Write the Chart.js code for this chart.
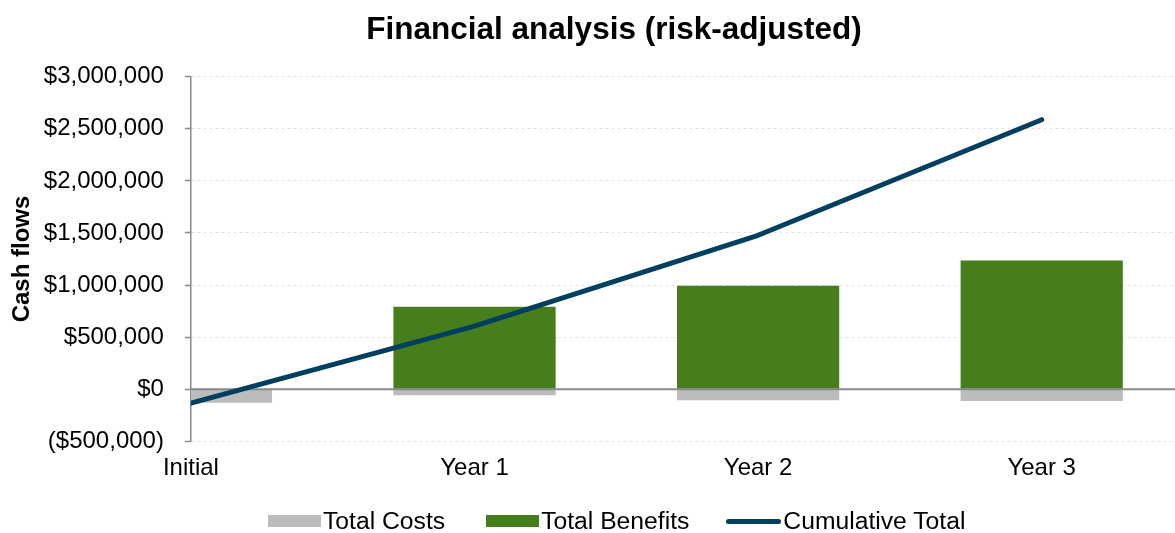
<!DOCTYPE html>
<html><head><meta charset="utf-8">
<script src="https://cdn.jsdelivr.net/npm/chart.js@4.4.1/dist/chart.umd.min.js"></script>
<style>
html,body{margin:0;padding:0;background:#fff;overflow:hidden}
#wrap{position:relative;width:1175px;height:533px}
#legend{position:absolute;left:268px;top:507px;height:28px;display:flex;align-items:center;white-space:nowrap;
  font-family:'Liberation Sans',Arial,Helvetica,sans-serif;font-size:24.7px;line-height:28px;color:#000}
#legend .item{display:flex;align-items:center}
#legend .sw{display:inline-block;margin-right:2px}
</style>
</head><body>
<div id="wrap">
<canvas id="c" width="1175" height="533"></canvas>
<div id="legend"></div>
</div>
<script>
// ---- data ----
const categories = ['Initial', 'Year 1', 'Year 2', 'Year 3'];
const totalCosts = [-130000, -58000, -106000, -115000];
const totalBenefits = [0, 791000, 992000, 1236000];
const cumulativeTotal = [-135000, 605000, 1478000, 2588000];
const yTickValues = [-500000, 0, 500000, 1000000, 1500000, 2000000, 2500000, 3000000];

const FONT = 'Liberation Sans, Arial, Helvetica, sans-serif';
const COLORS = { costs: '#bcbcbc', benefits: '#477e1c', line: '#003f5f', axis: '#898989', grid: '#e2e2e2' };

const toPoints = arr => arr.map((v, i) => ({ x: i, y: v }));
const money = v => {
  const s = '$' + Math.abs(v).toLocaleString('en-US');
  return v < 0 ? '(' + s + ')' : s;
};

const zeroLine = {
  id: 'zeroLine',
  beforeDatasetDraw(chart, args) {
    if (args.meta.type !== 'line') return;
    const y = chart.scales.y.getPixelForValue(0);
    const { left, right } = chart.chartArea;
    const ctx = chart.ctx;
    ctx.save();
    ctx.strokeStyle = COLORS.axis;
    ctx.lineWidth = 2;
    ctx.beginPath();
    ctx.moveTo(left, y);
    ctx.lineTo(right, y);
    ctx.stroke();
    ctx.restore();
  }
};

// the reference title sits a little right of the canvas centre
const titleShift = {
  id: 'titleShift',
  afterLayout(chart) {
    if (chart.titleBlock) chart.titleBlock.left += 45;
  }
};

const chart = new Chart(document.getElementById('c'), {
  type: 'bar',
  data: {
    datasets: [
      { type: 'bar', label: 'Total Costs', data: toPoints(totalCosts), backgroundColor: COLORS.costs,
        borderWidth: 0, grouped: false, clip: 0, order: 1 },
      { type: 'bar', label: 'Total Benefits', data: toPoints(totalBenefits), backgroundColor: COLORS.benefits,
        borderWidth: 0, grouped: false, clip: 0, order: 2 },
      { type: 'line', label: 'Cumulative Total', data: toPoints(cumulativeTotal), borderColor: COLORS.line,
        backgroundColor: COLORS.line, borderWidth: 5, pointRadius: 0, tension: 0, borderCapStyle: 'round',
        borderJoinStyle: 'round', clip: 0, order: -1 }
    ]
  },
  options: {
    responsive: false,
    animation: false,
    devicePixelRatio: 1,
    layout: { padding: { left: 8, right: 0, top: 0, bottom: 37 } },
    datasets: { bar: { categoryPercentage: 1, barPercentage: 0.572 } },
    scales: {
      x: {
        type: 'linear', min: 0, max: 3.47, offset: false,
        grid: { display: false, drawTicks: false, offset: false },
        border: { display: false },
        afterBuildTicks: s => { s.ticks = categories.map((c, i) => ({ value: i })); },
        ticks: {
          autoSkip: false, maxRotation: 0, padding: 13, color: '#000',
          font: { family: FONT, size: 24 },
          callback: v => categories[v]
        }
      },
      y: {
        min: -500000, max: 3000000,
        afterBuildTicks: s => { s.ticks = yTickValues.map(v => ({ value: v })); },
        grid: {
          color: c => c.tick && c.tick.value === 0 ? 'rgba(0,0,0,0)' : COLORS.grid,
          lineWidth: 1, drawTicks: true, tickLength: 6, tickColor: COLORS.axis, tickWidth: 1.5
        },
        border: { display: true, color: COLORS.axis, width: 1.5, dash: [3, 3] },
        ticks: { padding: 21, color: '#000', font: { family: FONT, size: 24 }, callback: v => money(v) },
        title: { display: true, text: 'Cash flows', color: '#000', font: { family: FONT, size: 24, weight: 'bold' },
                 padding: { top: 0, bottom: -14 } }
      }
    },
    plugins: {
      title: { display: true, text: 'Financial analysis (risk-adjusted)', color: '#000',
               font: { family: FONT, size: 31.5, weight: 'bold' }, padding: { top: 11, bottom: 28 } },
      legend: { display: false },
      tooltip: { enabled: false }
    }
  },
  plugins: [zeroLine, titleShift]
});

// HTML legend built from the chart's datasets
const legendEl = document.getElementById('legend');
const legendGaps = [0, 41, 37];
chart.data.datasets.forEach((ds, i) => {
  const item = document.createElement('div');
  item.className = 'item';
  item.style.marginLeft = legendGaps[i] + 'px';
  const sw = document.createElement('span');
  sw.className = 'sw';
  if (ds.type === 'line') {
    sw.style.cssText = 'width:55px;height:5px;border-radius:3px;background:' + ds.borderColor;
  } else {
    sw.style.cssText = 'width:53px;height:12px;background:' + ds.backgroundColor;
  }
  const tx = document.createElement('span');
  tx.textContent = ds.label;
  item.appendChild(sw);
  item.appendChild(tx);
  legendEl.appendChild(item);
});
</script>
</body></html>
